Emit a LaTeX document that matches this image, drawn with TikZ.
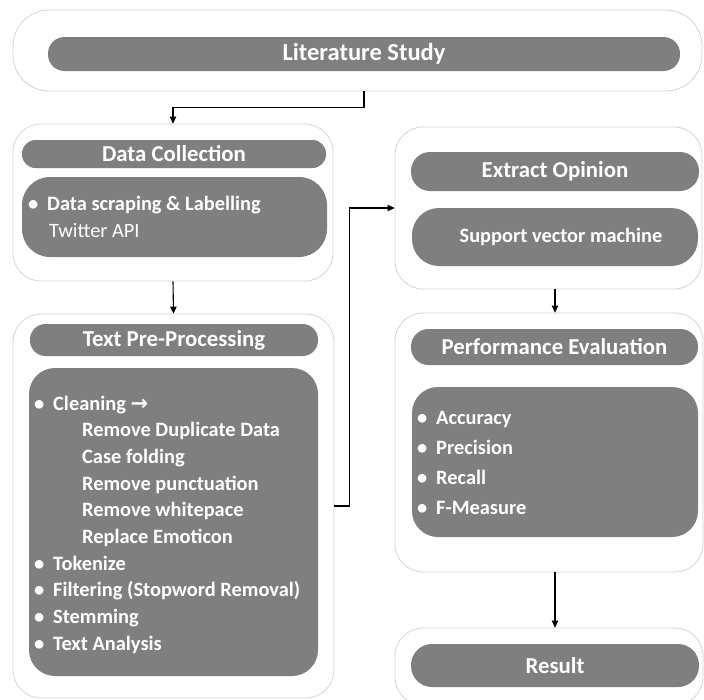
\documentclass[tikz,border=0pt]{standalone}
\usepackage{fontspec}
\setmainfont{Carlito}
\newfontfamily\symfont{DejaVu Sans}
\usetikzlibrary{arrows.meta}
\definecolor{barfill}{HTML}{7F7F7F}
\definecolor{framegray}{HTML}{D4D4D4}
\newcommand\itemdot{\llap{\makebox[19pt][l]{\textbullet}}}
\tikzset{
  stage/.style={draw=framegray, line width=0.8pt, fill=white, rounded corners=28pt, inner sep=0pt},
  bar/.style={fill=barfill, text=white, inner sep=0pt, font=\bfseries\fontsize{22.8}{27}\selectfont},
  panel/.style={fill=barfill, inner sep=0pt, rounded corners=26pt},
  entry/.style={anchor=base west, text=white, inner sep=0pt, font=\bfseries\fontsize{20.4}{24}\selectfont},
  flow/.style={draw=black, line width=1.1pt, -{Triangle[length=7pt,width=6.5pt]}},
}
\begin{document}
\begin{tikzpicture}[x=1pt, y=-1pt]
\useasboundingbox (0,0) rectangle (704,699);

% Literature study
\node[stage, rounded corners=36pt, minimum width=689pt, minimum height=81pt] (top) at (357.5,50.5) {};
\node[bar, rounded corners=16.5pt, minimum width=632pt, minimum height=34pt, font=\bfseries\fontsize{24.5}{28}\selectfont] (lit) at (364,54) {Literature Study};

% Data collection
\node[stage, minimum width=320pt, minimum height=157pt] (dc) at (173,202.5) {};
\node[bar, rounded corners=13.5pt, minimum width=304pt, minimum height=28pt] (dcb) at (174,154) {Data Collection};
\node[panel, rounded corners=28pt, minimum width=305pt, minimum height=80pt] (dcp) at (174.5,217) {};
\node[entry] (dc1) at (47,210) {\itemdot Data scraping \& Labelling};
\node[entry, font=\fontsize{20.4}{24}\selectfont] (dc2) at (49,237) {Twitter API};

% Text pre-processing
\node[stage, minimum width=321pt, minimum height=384pt] (tpp) at (173.5,506) {};
\node[bar, rounded corners=15.5pt, minimum width=288pt, minimum height=32pt] (tppb) at (174,340) {Text Pre-Processing};
\node[panel, minimum width=289pt, minimum height=308pt] (tppp) at (173.5,522) {};
\node[entry] (t1) at (53,410) {\itemdot Cleaning {\symfont\fontsize{21}{24}\selectfont →}};
\node[entry] (t2) at (82,436) {Remove Duplicate Data};
\node[entry] (t3) at (82,463) {Case folding};
\node[entry] (t4) at (82,490) {Remove punctuation};
\node[entry] (t5) at (82,516) {Remove whitepace};
\node[entry] (t6) at (82,543) {Replace Emoticon};
\node[entry] (t7) at (53,570) {\itemdot Tokenize};
\node[entry] (t8) at (53,596) {\itemdot Filtering (Stopword Removal)};
\node[entry] (t9) at (53,623) {\itemdot Stemming};
\node[entry] (t10) at (53,650) {\itemdot Text Analysis};

% Extract opinion
\node[stage, minimum width=307pt, minimum height=162pt] (eo) at (548.5,208) {};
\node[bar, rounded corners=19pt, minimum width=288pt, minimum height=39pt] (eob) at (555,171.5) {Extract Opinion};
\node[bar, rounded corners=27pt, minimum width=286pt, minimum height=58pt, font=\bfseries\fontsize{20.4}{24}\selectfont] (svm) at (555,237) {\hspace{12pt}Support vector machine};

% Performance evaluation
\node[stage, minimum width=308pt, minimum height=259pt] (pe) at (549,442.5) {};
\node[bar, rounded corners=17.5pt, minimum width=287pt, minimum height=36pt] (peb) at (554.5,347) {Performance Evaluation};
\node[panel, minimum width=286pt, minimum height=150pt] (pep) at (555,462) {};
\node[entry] (p1) at (436,424) {\itemdot Accuracy};
\node[entry] (p2) at (436,454) {\itemdot Precision};
\node[entry] (p3) at (436,484) {\itemdot Recall};
\node[entry] (p4) at (436,514) {\itemdot F-Measure};

% Result
\node[stage, minimum width=308pt, minimum height=77pt] (res) at (549,666.5) {};
\node[bar, rounded corners=21pt, minimum width=288pt, minimum height=43pt] (resb) at (555,665.5) {Result};

% Flow between the stages
\draw[flow] (lit.center |- top.south) -- ++(0,16) -| (dc.north);
\draw[flow] (dc.south) -- (tpp.north);
\draw[flow] (tpp.east) -- ++(15,0) |- (eo.west);
\draw[flow] (eob.center |- eo.south) -- (eob.center |- pe.north);
\draw[flow] (eob.center |- pe.south) -- (eob.center |- res.north);
\end{tikzpicture}
\end{document}
